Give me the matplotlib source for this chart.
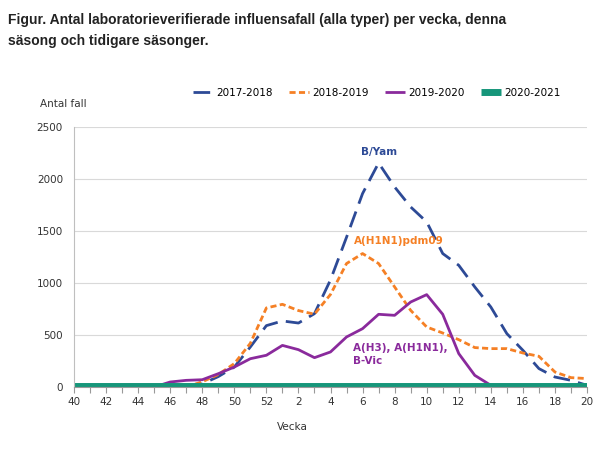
import numpy as np
import matplotlib.pyplot as plt

# veckor 40-52, 1-20
weeks = list(range(40, 53)) + list(range(1, 21))
tick_labels = [str(w) if w % 2 == 0 else "" for w in weeks]

s2017 = [None] * 7 + [5, 30, 100, 192, 385, 590, 635, 615, 705, 1030, 1440, 1860,
                      2154, 1923, 1731, 1587, 1283, 1170, 962, 769, 513, 353, 177, 96, 64, 16]
s2018 = [None] * 7 + [0, 50, 120, 225, 420, 760, 795, 735, 700, 890, 1187, 1283,
                      1187, 962, 737, 577, 519, 455, 379, 369, 369, 327, 295, 144, 90, 81]
s2019 = [None] * 5 + [0, 48, 64, 70, 128, 192, 272, 305, 400, 359, 282, 337, 481, 561,
                      699, 689, 817, 888, 699, 321, 112, 16] + [None] * 6
s2020 = [10] * 33

series = [
    ("2017-2018", s2017, "#2d4a96", dict(ls=(0, (6, 3)), lw=2.0)),
    ("2018-2019", s2018, "#f58025", dict(ls=(0, (2.2, 1.2)), lw=2.0)),
    ("2019-2020", s2019, "#8a2a9c", dict(ls="-", lw=2.0)),
    ("2020-2021", s2020, "#16967a", dict(ls="-", lw=5.0)),
]

fig = plt.figure(figsize=(6.03, 4.53), dpi=100)
ax = fig.add_axes([0.1227, 0.1457, 0.8508, 0.574])

x = np.arange(len(weeks))
for name, vals, col, st in series:
    y = np.array([np.nan if v is None else v for v in vals], dtype=float)
    ax.plot(x, y, color=col, label=name, solid_capstyle="butt", **st)

ax.set_xlim(0, len(weeks) - 1)
ax.set_ylim(0, 2500)
ax.set_yticks(range(0, 2501, 500))
ax.set_xticks(x)
ax.set_xticklabels(tick_labels)
ax.tick_params(axis="x", length=4, color="#999999", labelsize=7.5, labelcolor="#333333", pad=3)
ax.tick_params(axis="y", length=0, labelsize=7.5, labelcolor="#333333", pad=8)
ax.grid(axis="y", color="#d9d9d9", lw=0.8)
ax.set_axisbelow(True)
for sp in ["top", "right"]:
    ax.spines[sp].set_visible(False)
ax.spines["left"].set_color("#bfbfbf")
ax.spines["bottom"].set_color("#999999")

ax.text(19, 2215, "B/Yam", color="#2d4a96", fontsize=7.5, fontweight="bold", ha="center", va="bottom")
ax.text(17.45, 1360, "A(H1N1)pdm09", color="#f58025", fontsize=7.5, fontweight="bold", ha="left", va="bottom")
ax.text(17.4, 420, "A(H3), A(H1N1),\nB-Vic", color="#8a2a9c", fontsize=7.5, fontweight="bold",
        ha="left", va="top", linespacing=1.3)

fig.text(40 / 603, 1 - 104 / 453, "Antal fall", fontsize=7.5, color="#333333", va="center")
fig.text(292 / 603, 1 - 427 / 453, "Vecka", fontsize=7.5, color="#333333", ha="center", va="center")

fig.legend(loc="center", bbox_to_anchor=(0.625, 1 - 93 / 453), ncol=4, frameon=False,
           fontsize=7.5, handlelength=1.9, handletextpad=0.3, columnspacing=1.6)

fig.text(8 / 603, 1 - 30.5 / 453, "Figur. Antal laboratorieverifierade influensafall (alla typer) per vecka, denna\nsäsong och tidigare säsonger.",
         fontsize=10, fontweight="bold", family="Liberation Sans", color="#222222", va="center", linespacing=1.65)

fig.savefig("out.png", dpi=100)
